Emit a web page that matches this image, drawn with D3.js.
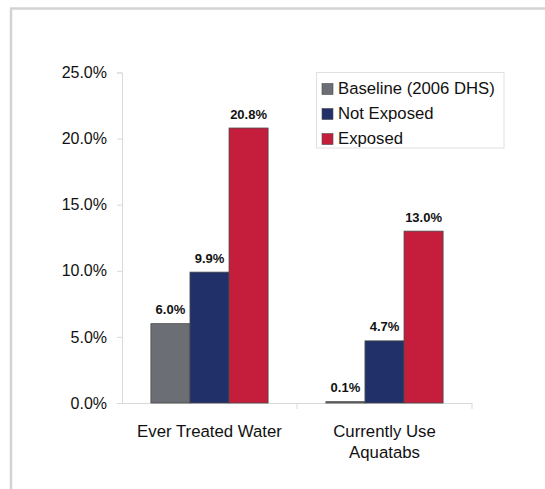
<!DOCTYPE html>
<html>
<head>
<meta charset="utf-8">
<script src="https://d3js.org/d3.v7.min.js"></script>
<style>
  body { margin: 0; background: #fff; }
  svg text { font-family: "Liberation Sans", Arial, sans-serif; }
</style>
</head>
<body>
<script>
// data
const categories = ["Ever Treated Water", "Currently Use Aquatabs"];
const categoryLines = [["Ever Treated Water"], ["Currently Use", "Aquatabs"]];
const seriesNames = ["Baseline (2006 DHS)", "Not Exposed", "Exposed"];
const baseline = [6.0, 0.1];
const notExposed = [9.9, 4.7];
const exposed = [20.8, 13.0];
const yTicks = [0, 5, 10, 15, 20, 25];
const colors = ["#6b6e74", "#22306a", "#c41e3c"];

const seriesValues = [baseline, notExposed, exposed];

const width = 545, height = 489;
const svg = d3.select("body").append("svg")
    .attr("width", width)
    .attr("height", height);

// outer frame (left + top edges)
svg.append("line").attr("x1", 11).attr("y1", 8).attr("x2", 11).attr("y2", height)
    .attr("stroke", "#d3d3d3").attr("stroke-width", 2.5);
svg.append("line").attr("x1", 10).attr("y1", 8.5).attr("x2", width).attr("y2", 8.5)
    .attr("stroke", "#d3d3d3").attr("stroke-width", 2.5);

const plotLeft = 122, plotRight = 472, plotTop = 72.5, plotBottom = 403;

let x0 = d3.scaleBand().domain(categories).range([plotLeft, plotRight]).padding(0);
let x1 = d3.scaleBand().domain(seriesNames).range([0, x0.bandwidth()])
    .paddingInner(0).paddingOuter(0.74);
let y = d3.scaleLinear().domain([0, 25]).range([plotBottom, plotTop]);

// y axis
let yAxis = svg.append("g")
    .attr("transform", `translate(${plotLeft},0)`)
    .call(d3.axisLeft(y).tickValues(yTicks).tickSize(5).tickPadding(10)
        .tickFormat(d => d.toFixed(1) + "%"));
yAxis.select(".domain").attr("stroke", "#d9d9d9");
yAxis.selectAll(".tick line").attr("stroke", "#d9d9d9");
yAxis.selectAll(".tick text")
    .attr("font-size", "16px")
    .attr("fill", "#111")
    .attr("font-family", "Liberation Sans, Arial, sans-serif");

// x axis line + category separators
svg.append("line")
    .attr("x1", plotLeft).attr("x2", plotRight)
    .attr("y1", plotBottom + 0.5).attr("y2", plotBottom + 0.5)
    .attr("stroke", "#d9d9d9");
svg.selectAll(".sep")
    .data(categories.slice(1).map(c => x0(c)).concat([plotRight]))
    .join("line")
    .attr("x1", d => d).attr("x2", d => d)
    .attr("y1", plotBottom).attr("y2", plotBottom + 6)
    .attr("stroke", "#d9d9d9");

// bars
let groups = svg.selectAll("g.cat")
    .data(categories)
    .join("g")
    .attr("class", "cat")
    .attr("transform", d => `translate(${x0(d)},0)`);

groups.selectAll("rect")
    .data((c, ci) => seriesNames.map((s, si) => ({ s, si, v: seriesValues[si][ci] })))
    .join("rect")
    .attr("x", d => x1(d.s))
    .attr("width", x1.bandwidth())
    .attr("y", d => y(d.v))
    .attr("height", d => y(0) - y(d.v))
    .attr("fill", d => colors[d.si])
    .attr("stroke", "#4a4a4a")
    .attr("stroke-width", 0.8);

groups.selectAll("text.val")
    .data((c, ci) => seriesNames.map((s, si) => ({ s, si, v: seriesValues[si][ci] })))
    .join("text")
    .attr("class", "val")
    .attr("x", d => x1(d.s) + x1.bandwidth() / 2)
    .attr("y", d => y(d.v) - 9.5)
    .attr("text-anchor", "middle")
    .attr("font-size", "13px")
    .attr("font-weight", "bold")
    .attr("fill", "#111")
    .text(d => d.v.toFixed(1) + "%");

// category labels
svg.selectAll("text.catlabel")
    .data(categories)
    .join("text")
    .attr("class", "catlabel")
    .attr("text-anchor", "middle")
    .attr("font-size", "16.8px")
    .attr("fill", "#111")
    .attr("transform", d => `translate(${x0(d) + x0.bandwidth() / 2},437)`)
    .selectAll("tspan")
    .data((d, i) => categoryLines[i])
    .join("tspan")
    .attr("x", 0)
    .attr("y", (d, i) => i * 21)
    .text(d => d);

// legend
let legend = svg.append("g").attr("transform", "translate(316.5,72.5)");
legend.append("rect")
    .attr("width", 187.5).attr("height", 75.5)
    .attr("fill", "#fff").attr("stroke", "#e0e0e0");
let items = legend.selectAll("g")
    .data(seriesNames)
    .join("g")
    .attr("transform", (d, i) => `translate(0,${21.5 + i * 25})`);
items.append("rect")
    .attr("x", 5.5).attr("y", -10.5)
    .attr("width", 11).attr("height", 11)
    .attr("fill", (d, i) => colors[i])
    .attr("stroke", "#4a4a4a").attr("stroke-width", 0.6);
items.append("text")
    .attr("x", 21.5).attr("y", 0)
    .attr("font-size", "16.7px")
    .attr("fill", "#111")
    .text(d => d);
</script>
</body>
</html>
